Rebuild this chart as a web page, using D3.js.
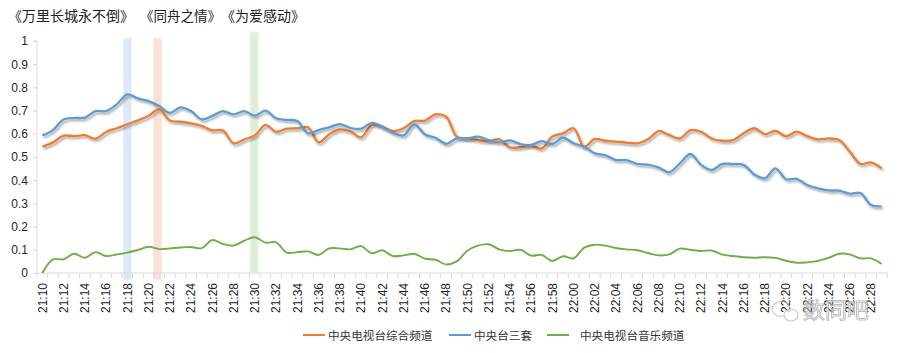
<!DOCTYPE html>
<html><head><meta charset="utf-8">
<script src="https://cdn.jsdelivr.net/npm/d3@7"></script>
<style>body{margin:0;background:#fff;} svg{display:block;font-family:"Liberation Sans",Arial,sans-serif;}</style>
</head><body><svg id="c" width="900" height="353"></svg>
<script>
// ---- data ----
const times = [];
for (let m = 10; m <= 89; m++) { const h = 21 + Math.floor(m / 60); const mm = m % 60; times.push(h + ":" + String(mm).padStart(2, "0")); }
const seriesNames = ["中央电视台综合频道", "中央台三套", "中央电视台音乐频道"];
const cctv1 = [0.544,0.563,0.592,0.590,0.594,0.579,0.608,0.624,0.641,0.658,0.678,0.705,0.657,0.652,0.645,0.634,0.615,0.614,0.559,0.576,
 0.593,0.638,0.609,0.622,0.624,0.628,0.563,0.598,0.619,0.610,0.585,0.638,0.630,0.612,0.624,0.655,0.657,0.684,0.674,0.588,
 0.580,0.573,0.568,0.576,0.542,0.542,0.549,0.537,0.588,0.602,0.624,0.545,0.578,0.570,0.566,0.562,0.559,0.576,0.612,0.595,
 0.580,0.616,0.609,0.580,0.570,0.573,0.602,0.624,0.599,0.613,0.590,0.609,0.590,0.576,0.580,0.573,0.523,0.470,0.477,0.451];
const cctv3 = [0.593,0.616,0.662,0.668,0.670,0.698,0.698,0.727,0.770,0.753,0.741,0.720,0.690,0.714,0.698,0.662,0.677,0.698,0.684,0.698,
 0.678,0.700,0.667,0.660,0.655,0.602,0.616,0.628,0.642,0.625,0.622,0.647,0.632,0.605,0.593,0.641,0.598,0.583,0.557,0.580,
 0.580,0.588,0.573,0.563,0.572,0.556,0.552,0.568,0.556,0.583,0.559,0.544,0.516,0.507,0.487,0.487,0.470,0.467,0.455,0.434,
 0.473,0.513,0.466,0.444,0.470,0.470,0.466,0.425,0.408,0.451,0.404,0.406,0.379,0.365,0.356,0.355,0.342,0.345,0.293,0.287];
const cctvMusic = [0.000,0.059,0.059,0.083,0.066,0.090,0.073,0.080,0.088,0.099,0.113,0.103,0.106,0.110,0.112,0.107,0.142,0.125,0.118,0.139,
 0.154,0.131,0.132,0.088,0.090,0.093,0.078,0.106,0.106,0.102,0.116,0.085,0.098,0.073,0.076,0.083,0.062,0.057,0.037,0.050,
 0.096,0.118,0.124,0.102,0.095,0.100,0.075,0.078,0.052,0.072,0.063,0.109,0.122,0.118,0.108,0.102,0.098,0.086,0.076,0.080,
 0.105,0.100,0.095,0.097,0.079,0.073,0.068,0.066,0.068,0.065,0.053,0.044,0.046,0.052,0.065,0.083,0.080,0.063,0.063,0.039];
const yTicks = [0,0.1,0.2,0.3,0.4,0.5,0.6,0.7,0.8,0.9,1];
const yTickLabels = ["0","0.1","0.2","0.3","0.4","0.5","0.6","0.7","0.8","0.9","1"];
const titles = ["《万里长城永不倒》", "《同舟之情》", "《为爱感动》"];
const highlightPos = [8, 10.85, 19.95]; // category index position of the song markers
const colors = ["#ED7D31", "#5B9BD5", "#70AD47"];
const hlFill = ["#dbe8f6", "#fbe1d3", "#deefd6"];
const hlStroke = ["#eef4fb", "#fdf0e8", "#eef7ea"];

// ---- layout ----
const svg = d3.select("#c");
const L = 37, R = 887, T = 41, B = 273;
const x = d3.scaleLinear().domain([-0.5, times.length - 0.5]).range([L, R]);
const y = d3.scaleLinear().domain([0, 1]).range([B, T]);

const defs = svg.append("defs");
const f = defs.append("filter").attr("id", "sh").attr("x", "-5%").attr("y", "-20%").attr("width", "110%").attr("height", "140%");
f.append("feDropShadow").attr("dx", 1.5).attr("dy", 2).attr("stdDeviation", 1.2).attr("flood-color", "#000").attr("flood-opacity", 0.35);

// titles
const titleX = [8, 140, 221];
const titleSize = [14, 13.5, 14];
svg.selectAll("text.title").data(titles).join("text").attr("class", "title")
  .attr("x", (d, i) => titleX[i]).attr("y", 21).attr("font-size", (d, i) => titleSize[i]).attr("fill", "#222")
  .attr("font-family", "'Noto Sans CJK SC',sans-serif").text(d => d);

// highlight bars
const hlTop = [38, 38, 32], hlBot = [280, 280, 273];
svg.selectAll("rect.hl").data(highlightPos).join("rect").attr("class", "hl")
  .attr("x", d => x(d) - 4.2).attr("width", 8.4)
  .attr("y", (d, i) => hlTop[i]).attr("height", (d, i) => hlBot[i] - hlTop[i])
  .attr("fill", (d, i) => hlFill[i]).attr("stroke", (d, i) => hlStroke[i]).attr("stroke-width", 1.2);

// y axis
const yAxis = d3.axisLeft(y).tickValues(yTicks).tickFormat((d, i) => yTickLabels[i]).tickSize(4).tickPadding(5);
const ga = svg.append("g").attr("transform", `translate(${L},0)`).call(yAxis);
ga.select(".domain").attr("stroke", "#d9d9d9").attr("d", `M-4,${T}H0V${B}`);
ga.selectAll(".tick line").attr("stroke", "#d9d9d9");
ga.selectAll(".tick text").attr("font-size", 12).attr("fill", "#262626");

// x axis
const gx = svg.append("g").attr("transform", `translate(0,${B})`);
gx.append("line").attr("x1", L).attr("x2", R).attr("stroke", "#d9d9d9");
gx.selectAll("line.t").data(d3.range(times.length + 1)).join("line").attr("class", "t")
  .attr("x1", d => x(d - 0.5)).attr("x2", d => x(d - 0.5)).attr("y1", 0).attr("y2", 5).attr("stroke", "#d9d9d9");
gx.selectAll("text").data(times.filter((t, i) => i % 2 === 0)).join("text")
  .attr("transform", (d, i) => `translate(${x(i * 2) + 4.3},10) rotate(-90)`)
  .attr("text-anchor", "end").attr("font-size", 12).attr("fill", "#262626").text(d => d);

// lines
const line = d3.line().x((d, i) => x(i)).y(d => y(d)).curve(d3.curveCatmullRom.alpha(0.5));
const all = [cctv1, cctv3, cctvMusic];
svg.selectAll("path.s").data(all).join("path").attr("class", "s")
  .attr("d", line).attr("fill", "none").attr("stroke", (d, i) => colors[i])
  .attr("stroke-width", (d, i) => i === 2 ? 1.9 : 2.3).attr("stroke-linejoin", "round")
  .attr("filter", (d, i) => i === 2 ? null : "url(#sh)");

// legend
const legX = [303, 449, 547], legTX = [328, 474, 580];
const lg = svg.append("g");
seriesNames.forEach((n, i) => {
  lg.append("line").attr("x1", legX[i]).attr("x2", legX[i] + 22).attr("y1", 335).attr("y2", 335)
    .attr("stroke", colors[i]).attr("stroke-width", 2);
  lg.append("text").attr("x", legTX[i]).attr("y", 339.5).attr("font-size", 11.6).attr("fill", "#333")
    .attr("font-family", "'Noto Sans CJK SC',sans-serif").text(n);
});

// watermark
const wm = svg.append("g").attr("opacity", 0.75);
wm.append("ellipse").attr("cx", 781).attr("cy", 309).attr("rx", 9).attr("ry", 7.5).attr("fill", "none").attr("stroke", "#bbb").attr("stroke-width", 1.2);
wm.append("ellipse").attr("cx", 791).attr("cy", 315).attr("rx", 7).attr("ry", 6).attr("fill", "#fff").attr("stroke", "#bbb").attr("stroke-width", 1.2);
wm.append("text").attr("x", 803).attr("y", 318).attr("font-size", 22).attr("fill", "#fff").attr("stroke", "#aaa").attr("stroke-width", 1)
  .attr("font-family", "'Noto Sans CJK SC',sans-serif").text("数同吧");
</script></body></html>
